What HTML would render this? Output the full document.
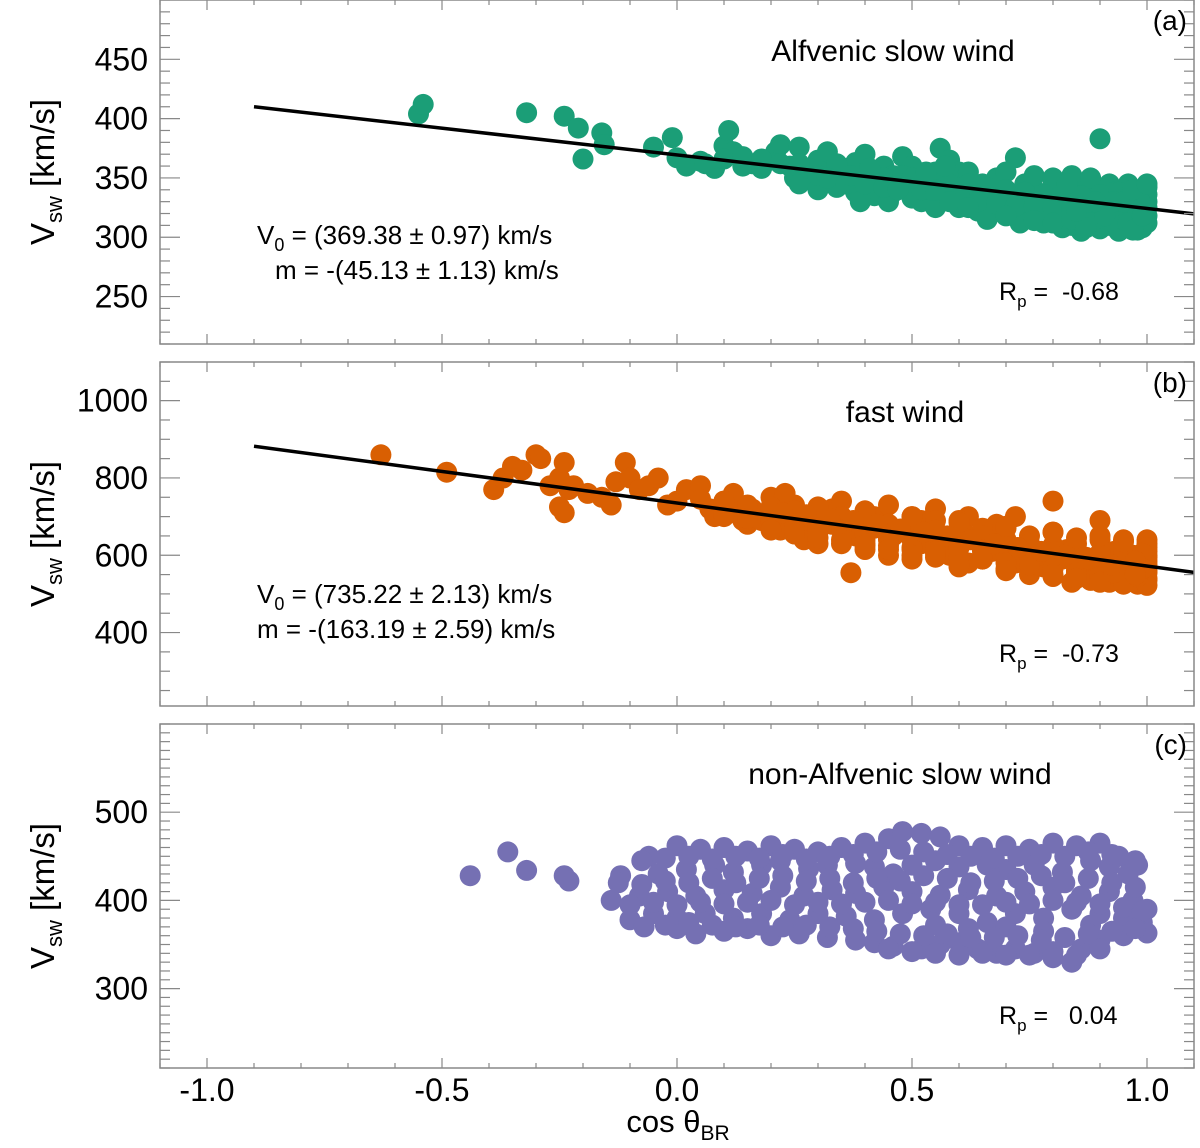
<!DOCTYPE html>
<html><head><meta charset="utf-8"><style>
body{margin:0;background:#fff}
svg{display:block;font-family:"Liberation Sans",sans-serif}
</style></head><body>
<svg id="fig" width="1200" height="1148" viewBox="0 0 1200 1148" xmlns="http://www.w3.org/2000/svg"></svg>
<script>
// x-axis
const xTicksMajor = [-1.0, -0.5, 0.0, 0.5, 1.0];
const xTickLabels = ["-1.0", "-0.5", "0.0", "0.5", "1.0"];
// panel a: Alfvenic slow wind
const aX = [-0.55,-0.54,-0.32,-0.24,-0.21,-0.20,-0.16,-0.155,-0.05,-0.01,0.0,0.02,0.05,0.08,0.1,0.11,0.12,0.14,0.16,0.18,0.2,0.21,0.22,0.24,0.25,0.26,0.28,0.3,0.32,0.33,0.35,0.36,0.38,0.4,0.41,0.42,0.44,0.46,0.48,0.5,0.52,0.55,0.56,0.58,0.6,0.62,0.65,0.68,0.72,0.9,
0.26,0.3,0.34,0.38,0.42,0.46,0.5,0.28,0.34,0.44,0.48,0.39,0.45,0.3,
0.52,0.56,0.6,0.64,0.68,0.72,0.74,0.55,0.6,0.64,0.7,0.66,0.58,0.62,0.7,0.75,0.73,0.54,
0.76,0.78,0.8,0.82,0.84,0.86,0.88,0.9,0.92,0.94,0.96,0.98,1.0,0.78,0.82,0.86,0.9,0.94,0.98,1.0,0.8,0.85,0.88,0.92,0.96,1.0,0.77,0.83,0.89,0.95,0.99,0.91,0.97,0.93,0.87,0.81,0.79,0.84,0.74,0.76,0.8,0.84,0.88];
const aY = [404,412,405,402,392,366,388,378,376,384,367,360,364,358,377,390,372,360,362,358,365,372,378,360,350,376,350,365,372,355,348,358,363,370,350,342,360,352,368,360,345,355,375,365,355,350,345,350,367,383,
345,340,342,338,335,338,333,358,362,350,345,330,330,352,
330,335,340,335,330,335,345,325,325,322,320,315,345,355,355,325,312,340,
340,330,320,340,330,315,325,340,310,325,335,315,330,312,308,305,307,305,306,318,345,345,340,345,345,342,322,320,315,315,325,330,322,338,332,330,338,310,330,352,350,352,350];
const aX2 = [0.62,0.66,0.7,0.74,0.78,0.82,0.86,0.9,0.94,0.98,1.0,
0.64,0.68,0.72,0.76,0.8,0.84,0.88,0.92,0.96,1.0,0.985,
0.7,0.76,0.8,0.84,0.88,0.92,0.96,1.0,0.99,0.97,
0.32,0.36,0.4,0.44,0.48,0.52,0.56,0.6,0.5,0.55,0.58,0.62,0.47,0.53,0.57,0.41,0.37,
0.06,0.1,0.14,0.18,0.22,0.26,
0.93,0.95,0.97,0.99,1.0,0.91,0.89,0.87,0.85,0.83];
const aY2 = [345,342,340,338,336,338,335,336,338,336,336,
330,328,326,326,325,324,322,322,324,325,330,
318,314,312,315,312,314,312,312,308,306,
350,345,345,342,352,340,345,335,350,340,330,325,340,355,360,358,352,
362,366,368,366,362,362,
330,330,340,318,345,318,330,308,322,345];
const aTicks = [250,300,350,400,450];
// panel b: fast wind
const bX = [-0.63,-0.49,-0.39,-0.37,-0.35,-0.33,-0.30,-0.29,-0.27,-0.25,-0.24,-0.23,-0.22,-0.25,-0.24,-0.19,-0.16,-0.14,-0.13,-0.11,-0.10,-0.08,-0.06,-0.04,-0.02,0.0,0.02,0.05,0.07,0.08,0.1,0.12,0.14,0.16,0.18,0.2,0.2,0.23,0.25,0.27,0.3,0.33,0.35,0.37,0.4,0.42,0.45,0.46,0.5,0.52,0.55,0.58,0.6,0.62,0.65,0.68,0.7,0.72,0.75,0.8,0.85,0.9,0.95,1.0,
0.1,0.15,0.2,0.25,0.3,0.35,0.4,0.45,0.5,0.55,0.6,0.65,0.7,0.75,0.8,0.85,0.9,0.95,1.0,
0.15,0.22,0.3,0.38,0.45,0.52,0.6,0.67,0.75,0.82,0.88,0.94,1.0,
0.3,0.4,0.5,0.58,0.65,0.72,0.78,0.85,0.9,0.96,1.0,
0.45,0.55,0.62,0.7,0.8,0.88,0.92,0.98,0.75,0.84,
0.5,0.6,0.7,0.8,0.9,1.0,0.95,0.85,0.75,0.65,0.55,0.4,0.3,0.35,0.25,
1.0,0.97,0.93,0.99,0.96,0.92,0.87,0.83,0.78,0.72,0.68,0.62,0.57,0.48,0.42,0.33,0.27,0.18,0.12];
const bY = [860,815,770,800,830,820,860,850,780,800,840,770,780,725,710,760,750,730,790,840,800,770,780,800,730,740,770,780,720,700,740,760,690,720,700,680,750,760,730,640,700,720,680,555,640,700,730,650,590,690,720,640,570,700,610,680,590,700,620,740,560,690,640,600,
700,710,720,700,690,700,690,680,670,660,650,640,630,625,615,605,595,590,585,
680,665,660,650,640,630,620,610,600,590,580,570,560,
630,615,620,600,590,580,570,560,550,545,540,
600,595,580,565,545,535,530,525,550,530,
700,690,670,660,640,630,620,630,650,670,690,710,720,740,710,
610,600,610,550,565,585,595,615,600,615,630,650,640,660,670,680,690,690,710];
const bX2 = [0.05,0.1,0.15,0.2,0.25,0.3,0.35,0.4,0.45,0.5,0.55,0.6,0.65,0.7,0.75,0.8,0.85,0.9,0.95,1.0,
0.1,0.15,0.2,0.25,0.3,0.35,0.4,0.45,0.5,0.55,0.6,0.65,0.7,0.75,0.8,0.85,0.9,0.95,1.0,
0.2,0.25,0.3,0.35,0.4,0.45,0.5,0.55,0.6,0.65,0.7,0.75,0.8,0.85,0.9,0.95,1.0,
0.6,0.7,0.8,0.85,0.9,0.95,1.0,0.98,0.93,
0.3,0.4,0.5,0.6,0.7,0.8,0.9,1.0,0.95,0.85,
1.0,1.0,0.99,0.99,0.975,0.975,0.925,0.875,0.825,0.775,0.725,0.675,0.625,0.575,0.525,0.475,0.425,0.375,0.325,0.275,0.225,
0.5,0.55,0.45,0.4,0.35];
const bY2 = [745,740,730,725,715,705,700,690,680,675,665,655,650,640,630,625,615,605,600,595,
705,695,688,680,670,665,655,645,640,630,620,615,605,595,585,580,570,560,555,
665,655,645,640,630,625,615,605,595,590,580,575,565,555,545,540,535,
575,560,550,540,530,525,522,545,555,
725,715,700,685,675,660,650,640,635,645,
620,575,605,565,585,550,575,590,600,610,620,630,640,650,660,668,680,690,695,705,710,
600,610,615,625,630];
const bTicks = [400,600,800,1000];
// panel c: non-Alfvenic slow wind
const cX = [-0.44,-0.36,-0.32,-0.24,-0.23,
-0.06,0.0,0.05,0.1,0.15,0.2,0.25,0.3,0.35,0.4,0.45,0.48,0.52,0.56,0.6,0.65,0.7,0.75,0.8,0.85,0.9,0.94,0.98,
-0.12,-0.04,0.02,0.08,0.12,0.18,0.22,0.28,0.32,0.38,0.42,0.46,0.5,0.55,0.6,0.66,0.7,0.76,0.82,0.88,0.92,0.96,
-0.14,-0.08,-0.02,0.04,0.1,0.16,0.22,0.27,0.33,0.38,0.44,0.5,0.56,0.62,0.68,0.74,0.8,0.86,0.92,0.97,1.0,
-0.1,-0.05,0.0,0.06,0.12,0.18,0.24,0.3,0.36,0.42,0.48,0.54,0.6,0.66,0.72,0.78,0.84,0.9,0.95,0.99,
-0.07,0.0,0.04,0.1,0.15,0.2,0.26,0.32,0.38,0.42,0.46,0.52,0.56,0.6,0.64,0.68,0.72,0.76,0.8,0.84,0.86,0.9,0.95,1.0,0.55,0.62,0.7,0.78,0.88];
const cY = [428,455,434,428,422,
450,462,458,460,456,462,458,455,460,465,470,478,476,472,462,460,462,458,465,462,465,450,440,
428,430,435,440,432,440,445,436,440,442,438,430,440,445,438,440,435,440,432,445,438,430,
400,405,410,405,412,408,415,405,412,408,415,410,406,412,405,410,415,405,410,400,390,
378,385,380,385,380,385,378,385,382,378,385,390,385,375,385,380,390,385,380,375,
370,368,362,365,368,360,362,358,355,352,348,345,350,352,345,340,345,340,342,330,345,355,360,363,372,368,370,365,372];
const cX2 = [-0.075,-0.025,0.025,0.075,0.125,0.175,0.225,0.275,0.325,0.375,0.425,0.475,0.525,0.575,0.625,0.675,0.725,0.775,0.825,0.875,0.925,0.975,
-0.125,-0.075,-0.025,0.025,0.075,0.125,0.175,0.225,0.275,0.325,0.375,0.425,0.475,0.525,0.575,0.625,0.675,0.725,0.775,0.825,0.875,0.925,0.975,
-0.1,-0.05,0.0,0.05,0.1,0.15,0.2,0.25,0.3,0.35,0.4,0.45,0.5,0.55,0.6,0.65,0.7,0.75,0.8,0.85,0.9,0.95,0.99,
-0.025,0.025,0.075,0.125,0.175,0.225,0.275,0.325,0.375,0.425,0.475,0.525,0.575,0.625,0.675,0.725,0.775,0.825,0.875,0.925,0.975,
0.45,0.5,0.55,0.6,0.65,0.7,0.75,0.8,0.85,0.9];
const cY2 = [445,448,450,447,450,448,452,447,450,452,455,458,455,452,450,448,450,452,450,455,452,445,
420,418,422,420,425,420,425,428,422,425,420,425,422,428,425,420,422,425,428,420,425,420,415,
395,398,395,398,396,398,400,395,398,396,398,400,396,398,395,395,398,396,400,398,396,392,388,
372,375,372,370,372,370,372,370,368,365,362,360,362,358,358,360,355,358,362,365,368,
345,342,340,338,340,338,338,335,338,345];
const cTicks = [300,400,500];

const NS = "http://www.w3.org/2000/svg";
const svg = document.getElementById('fig');
const X0 = 160, X1 = 1194, XMIN = -1.1, XMAX = 1.1;
function xs(v){ return X0 + (v - XMIN) / (XMAX - XMIN) * (X1 - X0); }
function mk(tag, attrs, parent){ const e = document.createElementNS(NS, tag); for (const k in attrs) e.setAttribute(k, attrs[k]); (parent||svg).appendChild(e); return e; }

function panel(id, top, bottom, ymin, ymax, minorStep, ticks, px, py, color, fit, label, tag, rp, fitText){
  const g = mk('g', {});
  
  
  const ys = v => bottom - (v - ymin) / (ymax - ymin) * (bottom - top);
  for (let i = 0; i < px.length; i++){
    const c = mk('circle', {cx: xs(px[i]).toFixed(1), cy: ys(py[i]).toFixed(1), r: 10.5, fill: color}, g);
    
    
  }
  if (fit){
    const xa = -0.9, xb = XMAX;
    const l = mk('line', {x1: xs(xa), y1: ys(fit[0] + fit[1]*xa), x2: xs(xb), y2: ys(fit[0] + fit[1]*xb), stroke: '#000', 'stroke-width': 3.5}, g);
    
    
  }
  const fr = mk('rect', {x: X0, y: top, width: X1 - X0, height: bottom - top, fill: 'none', stroke: '#888', 'stroke-width': 1.5}, g);
  
  
  for (let k = -11; k <= 11; k++){
    const v = k / 10, x = xs(v), len = (k % 5 === 0) ? 10 : 5;
    mk('line', {x1: x, y1: bottom, x2: x, y2: bottom - len, stroke: '#888', 'stroke-width': 1.2}, g);
    mk('line', {x1: x, y1: top, x2: x, y2: top + len, stroke: '#888', 'stroke-width': 1.2}, g);
  }
  for (let v = Math.ceil(ymin / minorStep) * minorStep; v <= ymax; v += minorStep){
    const y = ys(v), major = ticks.includes(v), len = major ? 20 : 10;
    mk('line', {x1: X0, y1: y, x2: X0 + len, y2: y, stroke: '#888', 'stroke-width': 1.2}, g);
    mk('line', {x1: X1, y1: y, x2: X1 - len, y2: y, stroke: '#888', 'stroke-width': 1.2}, g);
  }
  ticks.forEach(v => {
    const t = mk('text', {x: 148, y: ys(v) + 11, 'font-size': 32, 'text-anchor': 'end'}, g);
    t.textContent = v;
    
    
  });
  const cy = (top + bottom) / 2;
  const yt = mk('text', {x: 0, y: 0, 'font-size': 33, 'text-anchor': 'middle', transform: `translate(54,${cy}) rotate(-90)`}, g);
  yt.innerHTML = 'V<tspan font-size="22" dy="8">sw</tspan><tspan dy="-8"> [km/s]</tspan>';
  
  
  const tt = mk('text', {x: label[1], y: top + label[2], 'font-size': 30, 'text-anchor': 'middle'}, g);
  tt.textContent = label[0];
  
  
  const tg = mk('text', {x: 1187, y: top + 30, 'font-size': 28, 'text-anchor': 'end'}, g);
  tg.textContent = tag;
  
  
  const r = mk('text', {x: 999, y: top + rp, 'font-size': 25}, g);
  r.innerHTML = 'R<tspan font-size="17" dy="7">p</tspan><tspan dy="-7"> = &#160;' + (tag === '(c)' ? '&#160;0.04' : (tag === '(a)' ? '-0.68' : '-0.73')) + '</tspan>';
  
  
  if (fitText){
    const t1 = mk('text', {x: 257, y: top + fitText[2], 'font-size': 26}, g);
    t1.innerHTML = 'V<tspan font-size="18" dy="7">0</tspan><tspan dy="-7"> = (' + fitText[0] + ') km/s</tspan>';
    
    
    const t2 = mk('text', {x: fitText[3], y: top + fitText[2] + 35, 'font-size': 26}, g);
    t2.textContent = 'm = -(' + fitText[1] + ') km/s';
    
    
  }
}
panel('a', 0, 344, 210, 500, 10, aTicks, aX.concat(aX2), aY.concat(aY2), '#1b9e77', [369.38, -45.13], ['Alfvenic slow wind', 893, 61], '(a)', 300, ['369.38 \u00b1 0.97', '45.13 \u00b1 1.13', 244, 275]);
panel('b', 362, 706, 210, 1100, 50, bTicks, bX.concat(bX2), bY.concat(bY2), '#d95f02', [735.22, -163.19], ['fast wind', 905, 60], '(b)', 300, ['735.22 \u00b1 2.13', '163.19 \u00b1 2.59', 241, 257]);
panel('c', 724, 1068, 210, 600, 10, cTicks, cX.concat(cX2), cY.concat(cY2), '#7570b3', null, ['non-Alfvenic slow wind', 900, 60], '(c)', 300, null);

xTicksMajor.forEach((v, i) => {
  const t = mk('text', {x: xs(v), y: 1101, 'font-size': 32, 'text-anchor': 'middle'});
  t.textContent = xTickLabels[i];
  
  
});
const xt = mk('text', {x: 678, y: 1132, 'font-size': 31, 'text-anchor': 'middle'});
xt.innerHTML = 'cos \u03b8<tspan font-size="21" dy="8">BR</tspan>';


</script>
</body></html>
